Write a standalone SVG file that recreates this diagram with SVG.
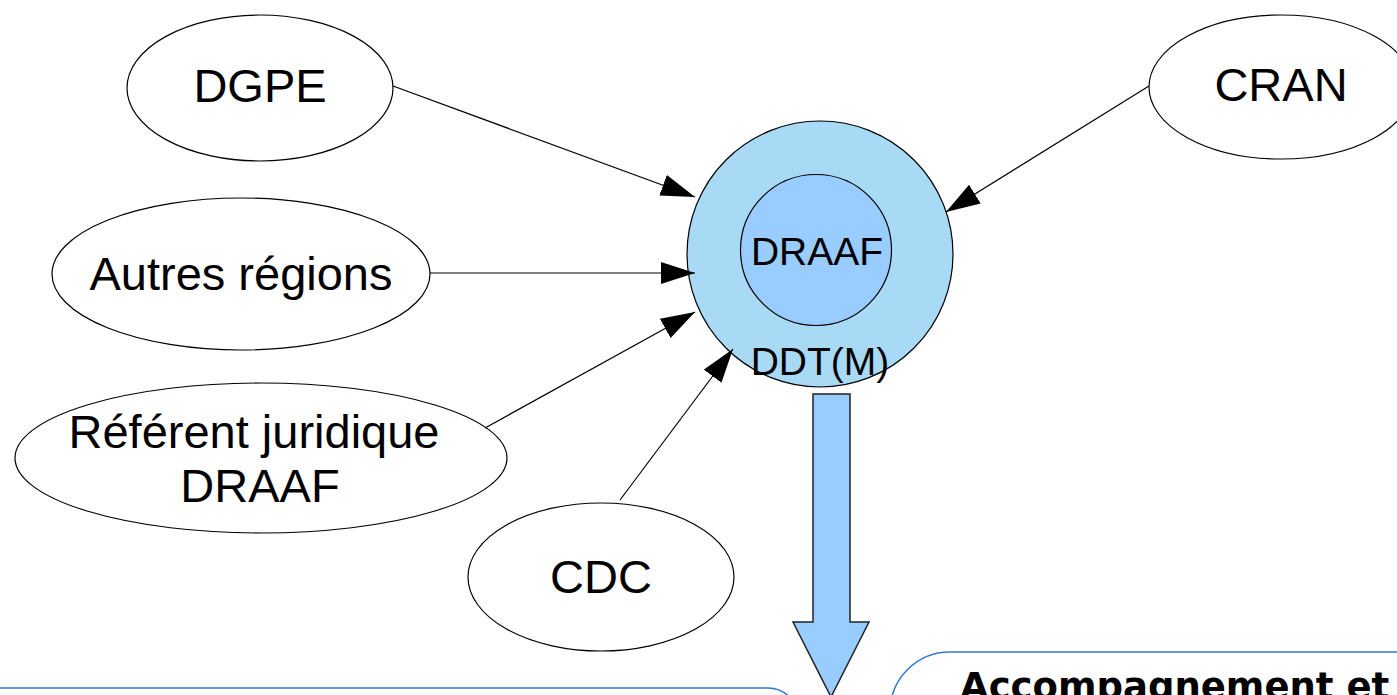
<svg xmlns="http://www.w3.org/2000/svg" width="1397" height="695" viewBox="0 0 1397 695">
<style>
.ell{fill:#ffffff;stroke:#000000;stroke-width:1.2}
.lbl{font-family:"Liberation Sans",Arial,sans-serif;font-size:47px;fill:#000000;text-anchor:middle}
.lblc{font-family:"Liberation Sans",Arial,sans-serif;font-size:39px;fill:#000000;text-anchor:middle}
.con{stroke:#000000;stroke-width:1.2;fill:none;marker-end:url(#ah)}
.box{fill:#ffffff;stroke:#3477d1;stroke-width:1.5}
</style>
<defs>
<marker id="ah" viewBox="0 0 34 22" refX="34" refY="11" markerWidth="34" markerHeight="22" markerUnits="userSpaceOnUse" orient="auto">
<path d="M0,0 L34,11 L0,22 z" fill="#000000"/>
</marker>
</defs>
<rect width="1397" height="695" fill="#ffffff"/>
<g id="box-left"><rect class="box" x="-40" y="688" width="838" height="200" rx="30" ry="30"/></g>
<g id="box-right">
<rect class="box" x="890" y="652" width="620" height="200" rx="60" ry="60"/>
<text x="960" y="699" font-family="'DejaVu Sans',sans-serif" font-weight="bold" font-size="37" fill="#000000">Accompagnement et</text>
</g>
<g id="center">
<circle cx="820" cy="254" r="133" fill="#a8d9f5" stroke="#000000" stroke-width="1.2"/>
<circle cx="816" cy="250" r="75.5" fill="#99ccff" stroke="#000000" stroke-width="1.2"/>
<text class="lblc" x="817" y="265">DRAAF</text>
<text class="lblc" x="820" y="375">DDT(M)</text>
</g>
<g id="big-arrow">
<path d="M813,394 L850,394 L850,622 L869,622 L831,697 L793,622 L813,622 z" fill="#99ccff" stroke="#222222" stroke-width="1.5" stroke-linejoin="miter"/>
</g>
<g id="dgpe"><ellipse class="ell" cx="260" cy="88" rx="133" ry="73"/><text class="lbl" x="260" y="102">DGPE</text></g>
<g id="cran"><ellipse class="ell" cx="1281" cy="87" rx="132" ry="72"/><text class="lbl" x="1281" y="101">CRAN</text></g>
<g id="autres"><ellipse class="ell" cx="241" cy="274" rx="189" ry="76"/><text class="lbl" x="241" y="290">Autres régions</text></g>
<g id="referent"><ellipse class="ell" cx="261" cy="458" rx="246" ry="75"/><text class="lbl" x="254" y="448">Référent juridique</text><text class="lbl" x="260" y="502">DRAAF</text></g>
<g id="cdc"><ellipse class="ell" cx="601" cy="577" rx="133" ry="74"/><text class="lbl" x="601" y="593">CDC</text></g>
<g id="connectors">
<line class="con" x1="393" y1="86" x2="695" y2="197"/>
<line class="con" x1="1149" y1="86" x2="946" y2="212"/>
<line class="con" x1="430" y1="273" x2="695" y2="273"/>
<line class="con" x1="485" y1="428" x2="695" y2="312"/>
<line class="con" x1="620" y1="500" x2="733" y2="349"/>
</g>
</svg>
